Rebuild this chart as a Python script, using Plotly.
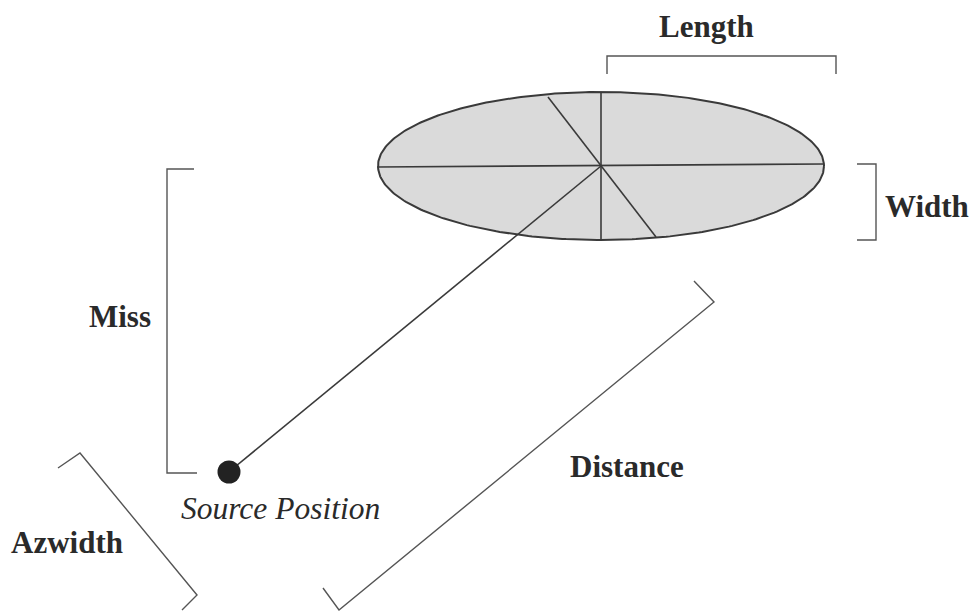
import numpy as np
import plotly.graph_objects as go

# Diagram geometry (pixel-space coordinates, y downward)
ellipse_center = [601, 166]
ellipse_semi_axes = [223, 74]

major_axis_x = [377, 824]
major_axis_y = [167, 164]
minor_axis_x = [601, 601]
minor_axis_y = [93, 241]
tilt_line_x = [548, 656]
tilt_line_y = [97, 237]
source_line_x = [230, 601]
source_line_y = [471, 166]
source_point = [229, 472]

length_bracket_x = [607, 607, 836, 836]
length_bracket_y = [74, 56, 56, 74]
width_bracket_x = [857, 876, 876, 857]
width_bracket_y = [164, 164, 240, 240]
miss_bracket_x = [194, 167, 167, 197]
miss_bracket_y = [169, 169, 473, 473]
distance_bracket_x = [694, 714, 339, 323]
distance_bracket_y = [281, 302, 610, 588]
azwidth_bracket_x = [58, 80, 197, 182]
azwidth_bracket_y = [468, 453, 595, 610]

labels = ["Length", "Width", "Miss", "Distance", "Azwidth"]
label_x = [706, 927, 120, 627, 67]
label_y = [26, 206, 316, 466, 542]
source_label = "Source Position"
source_label_xy = [280, 508]

fig = go.Figure()

t = np.linspace(0, 2 * np.pi, 361)
ex = ellipse_center[0] + ellipse_semi_axes[0] * np.cos(t)
ey = ellipse_center[1] + ellipse_semi_axes[1] * np.sin(t)
fig.add_trace(go.Scatter(x=ex, y=ey, mode="lines", fill="toself",
                         fillcolor="#dadada", line=dict(color="#3a3a3a", width=2),
                         hoverinfo="skip"))

line_style = dict(color="#3a3a3a", width=1.6)
for xs, ys in [(major_axis_x, major_axis_y), (minor_axis_x, minor_axis_y),
               (tilt_line_x, tilt_line_y), (source_line_x, source_line_y)]:
    fig.add_trace(go.Scatter(x=xs, y=ys, mode="lines", line=line_style, hoverinfo="skip"))

bracket_style = dict(color="#555555", width=1.4)
for xs, ys in [(length_bracket_x, length_bracket_y), (width_bracket_x, width_bracket_y),
               (miss_bracket_x, miss_bracket_y), (distance_bracket_x, distance_bracket_y),
               (azwidth_bracket_x, azwidth_bracket_y)]:
    fig.add_trace(go.Scatter(x=xs, y=ys, mode="lines", line=bracket_style, hoverinfo="skip"))

fig.add_trace(go.Scatter(x=[source_point[0]], y=[source_point[1]], mode="markers",
                         marker=dict(size=23, color="#222222"), hoverinfo="skip"))

for lab, lx, ly in zip(labels, label_x, label_y):
    fig.add_annotation(x=lx, y=ly, text="<b>" + lab + "</b>", showarrow=False,
                       font=dict(family="Liberation Serif", size=31, color="#2a2a2a"),
                       xanchor="center", yanchor="middle")
fig.add_annotation(x=source_label_xy[0], y=source_label_xy[1], text="<i>" + source_label + "</i>",
                   showarrow=False, font=dict(family="Liberation Serif", size=31.5, color="#2a2a2a"),
                   xanchor="center", yanchor="middle")

fig.update_layout(
    width=971, height=611, margin=dict(l=0, r=0, t=0, b=0),
    paper_bgcolor="white", plot_bgcolor="white", showlegend=False,
    xaxis=dict(range=[0, 971], visible=False, fixedrange=True),
    yaxis=dict(range=[611, 0], visible=False, fixedrange=True),
)
fig.write_html("out.html", config={"displayModeBar": False},
               post_script="document.body.style.margin='0px';document.body.style.overflow='hidden';")
